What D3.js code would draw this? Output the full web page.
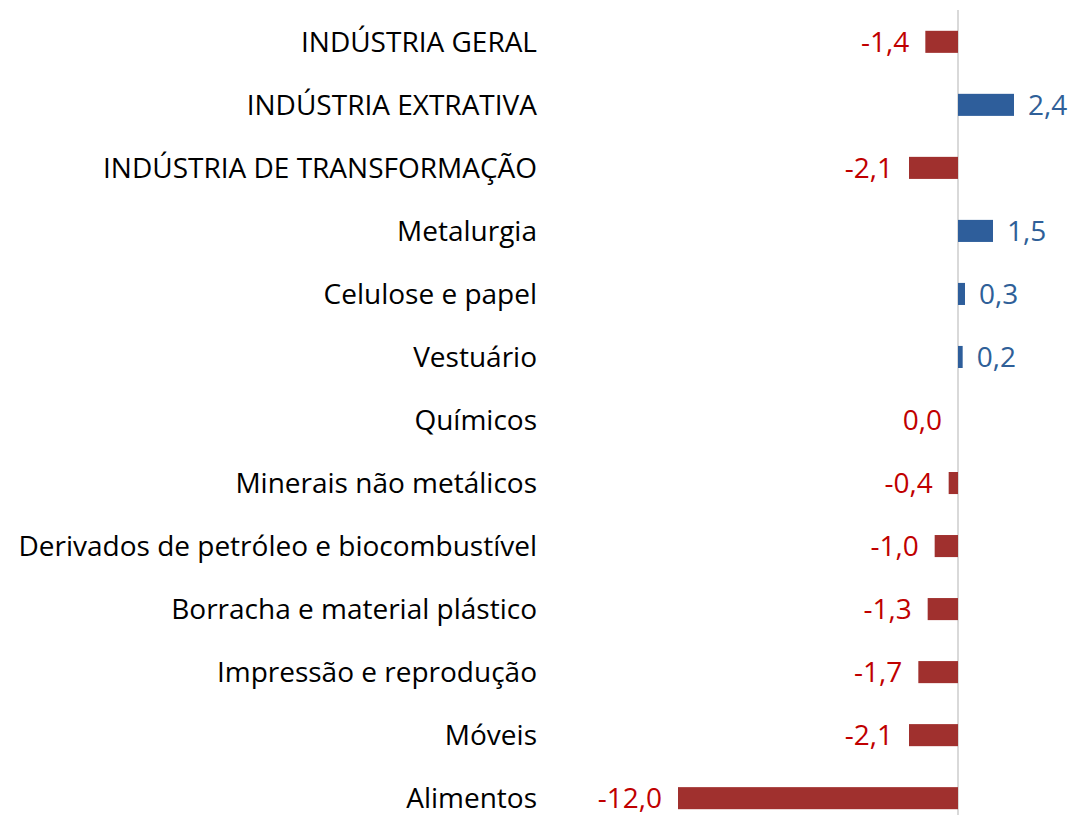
<!DOCTYPE html>
<html>
<head>
<meta charset="utf-8">
<script src="https://cdn.jsdelivr.net/npm/d3@7"></script>
<style>
  body { margin: 0; background: #fff; }
  text { font-family: "Open Sans", sans-serif; }
</style>
</head>
<body>
<div id="chart"></div>
<script>
const categories = ["INDÚSTRIA GERAL", "INDÚSTRIA EXTRATIVA", "INDÚSTRIA DE TRANSFORMAÇÃO",
  "Metalurgia", "Celulose e papel", "Vestuário", "Químicos", "Minerais não metálicos",
  "Derivados de petróleo e biocombustível", "Borracha e material plástico",
  "Impressão e reprodução", "Móveis", "Alimentos"]
const values = [-1.4, 2.4, -2.1, 1.5, 0.3, 0.2, 0.0, -0.4, -1.0, -1.3, -1.7, -2.1, -12.0]

let width = 1074, height = 815

let svg = d3.select("#chart")
  .append("svg")
    .attr("width", width)
    .attr("height", height)

let x = d3.scaleLinear()
  .domain([-12, 2.4])
  .range([678, 1014])

let y = d3.scaleBand()
  .domain(categories)
  .range([10, 830])
  .paddingInner(0.65)
  .paddingOuter(0.33)

let fmt = v => v.toFixed(1).replace(".", ",")

// zero line
svg.append("line")
  .attr("x1", x(0)).attr("x2", x(0))
  .attr("y1", 10).attr("y2", height)
  .attr("stroke", "#d9d9d9")
  .attr("stroke-width", 2)

svg.selectAll("rect.bar")
  .data(values)
  .join("rect")
  .attr("class", "bar")
  .attr("x", d => x(Math.min(0, d)))
  .attr("y", (d, i) => y(categories[i]))
  .attr("width", d => Math.abs(x(d) - x(0)))
  .attr("height", y.bandwidth())
  .attr("fill", d => d >= 0 ? "#2e5e9b" : "#a0302e")

// category labels
svg.selectAll("text.cat")
  .data(categories)
  .join("text")
  .attr("class", "cat")
  .attr("x", 537)
  .attr("y", d => y(d) + y.bandwidth() / 2)
  .attr("dy", "0.35em")
  .attr("text-anchor", "end")
  .attr("fill", "#000")
  .style("font-size", "28px")
  .text(d => d)

// value labels
svg.selectAll("text.val")
  .data(values)
  .join("text")
  .attr("class", "val")
  .attr("x", d => d > 0 ? x(d) + 14 : x(d) - 16)
  .attr("y", (d, i) => y(categories[i]) + y.bandwidth() / 2)
  .attr("dy", "0.35em")
  .attr("text-anchor", d => d > 0 ? "start" : "end")
  .attr("fill", d => d > 0 ? "#2f5f98" : "#c00000")
  .style("font-size", "28px")
  .text(d => fmt(d))
</script>
</body>
</html>
